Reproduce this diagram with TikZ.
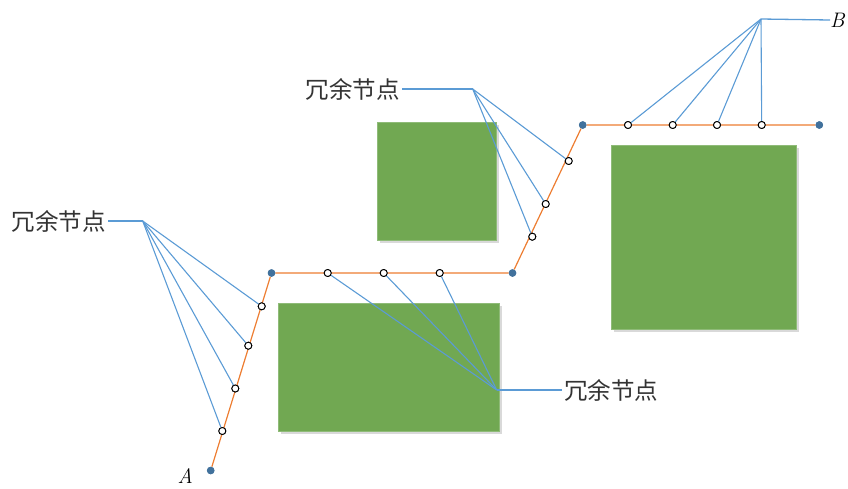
\documentclass[tikz,border=0pt]{standalone}
\usepackage{fontspec}
\newfontfamily\cjk{Noto Sans CJK SC}
\definecolor{blockgreen}{HTML}{71A852}
\definecolor{blockedge}{HTML}{8FBB78}
\definecolor{routeorange}{HTML}{ED7D31}
\definecolor{leadblue}{HTML}{5B9BD5}
\definecolor{enddot}{HTML}{41719C}
\tikzset{
  block/.style={fill=blockgreen, draw=blockedge, line width=0.8pt},
  blockshadow/.style={fill=black, opacity=0.15},
  route/.style={draw=routeorange, line width=1.2pt},
  lead/.style={draw=leadblue, line width=1.1pt},
  endpt/.style={circle, fill=enddot, inner sep=0pt, minimum size=7.5pt},
  spare/.style={circle, draw=black, fill=white, line width=0.9pt, inner sep=0pt, minimum size=7pt},
  cjklabel/.style={font=\cjk\fontsize{23.5}{25}\selectfont, text=black!80, inner sep=2pt},
  ptlabel/.style={font=\fontsize{21}{23}\selectfont\itshape, inner sep=0pt}
}
\begin{document}
\begin{tikzpicture}[x=1pt,y=-1pt]
\useasboundingbox (0,0) rectangle (848,488);

% obstacles with a soft shadow
\foreach \xa/\ya/\xb/\yb in {377/122/496/240, 278/303/499/431, 611/145/796/329}{
  \fill[blockshadow] (\xa+2.5,\ya+3) rectangle (\xb+2.5,\yb+3);
  \path[block] (\xa,\ya) rectangle (\xb,\yb);
}

% route corners and end points
\node[endpt] (A0) at (210.7,470.5) {};
\node[endpt] (C1) at (271.5,273) {};
\node[endpt] (C2) at (512.5,273) {};
\node[endpt] (C3) at (582.7,125) {};
\node[endpt] (B0) at (819.3,125) {};

\draw[route] (A0) -- (C1) -- (C2) -- (C3) -- (B0);
\foreach \n in {A0,C1,C2,C3,B0} \node[endpt] at (\n) {};

% redundant nodes along the route
\node[spare] (s1) at (222.3,431) {};
\node[spare] (s2) at (235.3,388.5) {};
\node[spare] (s3) at (248.3,345.7) {};
\node[spare] (s4) at (261.7,306.3) {};
\node[spare] (h1) at (327.7,273) {};
\node[spare] (h2) at (383.7,273) {};
\node[spare] (h3) at (439.7,273) {};
\node[spare] (d1) at (532.3,236.7) {};
\node[spare] (d2) at (545.7,204) {};
\node[spare] (d3) at (568.7,161) {};
\node[spare] (t1) at (628,125) {};
\node[spare] (t2) at (672.7,125) {};
\node[spare] (t3) at (717,125) {};
\node[spare] (t4) at (761.7,125) {};

% fan-out points of the callouts
\coordinate (fL) at (142.7,221);
\coordinate (fM) at (472.7,89);
\coordinate (fR) at (496.7,390);
\coordinate (fB) at (761,19);

% labels
\node[cjklabel, anchor=east] (lL) at (108,221) {冗余节点};
\node[cjklabel, anchor=east] (lM) at (402,89) {冗余节点};
\node[cjklabel, anchor=west] (lR) at (562,390) {冗余节点};
\node[ptlabel, anchor=west] (lB) at (830,20) {B};
\node[ptlabel, anchor=base east] (lA) at (193,483) {A};

% callout leaders
\draw[leadblue, line width=1.3pt] (lL.east) -- (fL);
\draw[leadblue, line width=1.3pt] (lM.east) -- (fM);
\draw[leadblue, line width=1.3pt] (fR) -- (lR.west);
\draw[leadblue, line width=1.3pt] (fB) -- (lB.west);

\foreach \n in {s1,s2,s3,s4} \draw[lead] (fL) -- (\n);
\foreach \n in {d1,d2,d3} \draw[lead] (fM) -- (\n);
\foreach \n in {h1,h2,h3} \draw[lead] (fR) -- (\n);
\foreach \n in {t1,t2,t3,t4} \draw[lead] (fB) -- (\n);

% keep the markers above the leaders
\foreach \n in {s1,s2,s3,s4,h1,h2,h3,d1,d2,d3,t1,t2,t3,t4} \node[spare] at (\n) {};
\end{tikzpicture}
\end{document}
